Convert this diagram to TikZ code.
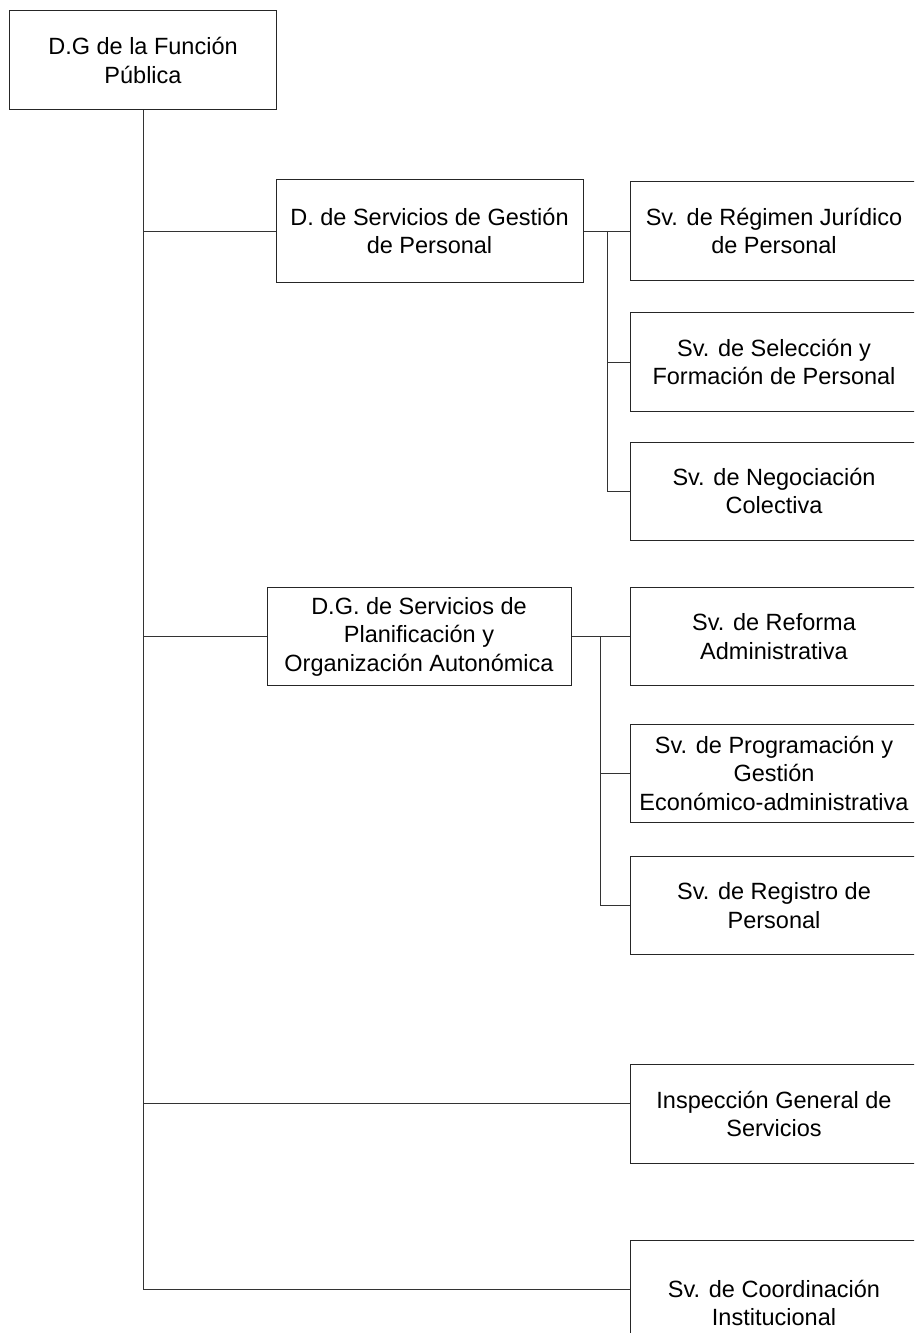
\documentclass[tikz,border=0pt]{standalone}
\usepackage{fontspec}
\setmainfont{Liberation Sans}
\begin{document}
\begin{tikzpicture}[x=1bp,y=-1bp,
  unit/.style={draw=black!85, line width=1bp, rectangle, align=center,
    inner sep=0pt, font=\fontsize{23.5bp}{28.5bp}\selectfont},
  service/.style={unit, minimum width=288bp, minimum height=98bp},
  link/.style={draw=black!80, line width=0.9bp}]
\useasboundingbox (0,0) rectangle (914,1333);
\clip (0,0) rectangle (914,1333);

% head of the directorate
\node[unit, minimum width=266bp, minimum height=99bp] (dg) at (143,60.5)
  {D.G de la Función\\Pública};

% second level
\node[unit, minimum width=307bp, minimum height=102bp] (dsg) at (429.5,231)
  {D. de Servicios de Gestión\\de Personal};
\node[unit, minimum width=304bp, minimum height=98bp] (dgp) at (419,636.5)
  {D.G. de Servicios de\\Planificación y\\Organización Autonómica};

% services under personnel management
\node[service] (s1) at (774,231) {Sv. de Régimen Jurídico\\de Personal};
\node[service] (s2) at (774,362) {Sv. de Selección y\\Formación de Personal};
\node[service] (s3) at (774,491) {Sv. de Negociación\\Colectiva};

% services under planning
\node[service] (r1) at (774,636.5) {Sv. de Reforma\\Administrativa};
\node[service] (r2) at (774,773) {Sv. de Programación y\\Gestión\\Económico-administrativa};
\node[service] (r3) at (774,905.5) {Sv. de Registro de\\Personal};

% units hanging directly from the head
\node[service, minimum height=99bp] (ins) at (774,1114) {Inspección General de\\Servicios};
\node[service, minimum height=126bp] (coo) at (774,1303) {Sv. de Coordinación\\Institucional};

% connection points
\coordinate (insin) at ([yshift=11bp]ins.west);
\coordinate (cooin) at ([yshift=14bp]coo.west);
\coordinate (busA) at (607,0);
\coordinate (busB) at (600,0);

% main trunk
\draw[link] (dg.south) |- (cooin);
\draw[link] (dg.south |- dsg.west) -- (dsg.west);
\draw[link] (dg.south |- dgp.west) -- (dgp.west);
\draw[link] (dg.south |- insin) -- (insin);

% personnel management branch
\draw[link] (dsg.east) -- (dsg.east -| s1.west);
\draw[link] (busA |- s1.west) |- (s3.west);
\draw[link] (busA |- s2.west) -- (s2.west);

% planning branch
\draw[link] (dgp.east) -- (dgp.east -| r1.west);
\draw[link] (busB |- r1.west) |- (r3.west);
\draw[link] (busB |- r2.west) -- (r2.west);
\end{tikzpicture}
\end{document}
